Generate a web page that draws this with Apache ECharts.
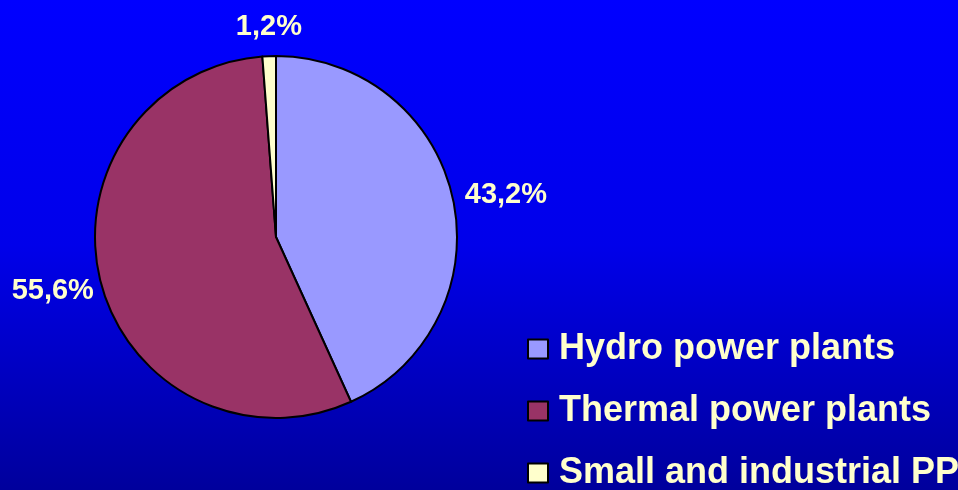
<!DOCTYPE html>
<html>
<head>
<meta charset="utf-8">
<title>Power plants share</title>
<script src="https://cdn.jsdelivr.net/npm/echarts@6/dist/echarts.min.js"></script>
<style>
  html, body { margin: 0; padding: 0; }
  #chart { width: 958px; height: 490px; }
</style>
</head>
<body>
<div id="chart"></div>
<script>
var categories = ['Hydro power plants', 'Thermal power plants', 'Small and industrial PP']
var shares = [43.2, 55.6, 1.2]
var colors = ['#9999ff', '#993366', '#ffffcc']

// nudges so the outside labels sit where the original put them
var labelOffsets = [[1, -2], [4, 7], [38, -23]]

var myChart = echarts.init(document.getElementById('chart'))

var pieData = categories.map(function (name, i) {
  return {
    name: name,
    value: shares[i],
    itemStyle: { color: colors[i] },
    label: { offset: labelOffsets[i] }
  }
})

var option = {
  backgroundColor: {
    type: 'linear', x: 0, y: 0, x2: 0, y2: 1,
    colorStops: [
      { offset: 0, color: '#0000ff' },
      { offset: 0.5, color: '#0000ea' },
      { offset: 1, color: '#00009c' }
    ]
  },
  animation: false,
  legend: {
    orient: 'vertical',
    left: 522,
    top: 326,
    height: 240,
    itemWidth: 20,
    itemHeight: 19,
    itemGap: 26,
    icon: 'rect',
    textStyle: {
      color: '#ffffcc',
      fontFamily: 'Liberation Sans, Arial, sans-serif',
      fontWeight: 'bold',
      fontSize: 36,
      padding: [0, 0, 0, 6]
    }
  },
  series: [
    {
      type: 'pie',
      center: [276, 237],
      radius: 181,
      startAngle: 90,
      clockwise: true,
      avoidLabelOverlap: false,
      itemStyle: { borderColor: '#000000', borderWidth: 2 },
      emphasis: { disabled: true },
      label: {
        show: true,
        position: 'outside',
        formatter: function (p) { return p.value.toFixed(1).replace('.', ',') + '%' },
        color: '#ffffcc',
        fontFamily: 'Liberation Sans, Arial, sans-serif',
        fontWeight: 'bold',
        fontSize: 29
      },
      labelLine: { show: false, length: 6, length2: 0 },
      data: pieData
    }
  ]
}

myChart.setOption(option)
</script>
</body>
</html>
